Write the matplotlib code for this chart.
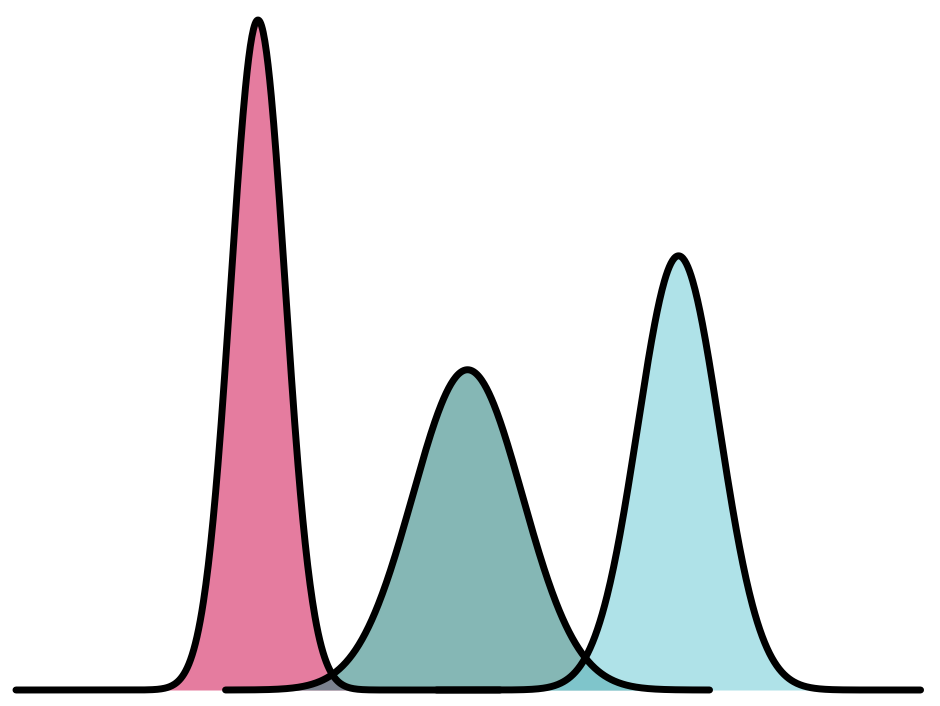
import numpy as np
import matplotlib
matplotlib.use('Agg')
import matplotlib.pyplot as plt

# Three bell curves (mean, spread, peak height), x in arbitrary units
labels = ['A', 'B', 'C']
means = [10.66, 19.32, 28.04]
sds = [1.12, 2.27, 1.69]
peaks = [1.0, 0.478, 0.648]
half_range = 10.0
colors = ['#D4255F', '#348785', '#7BD0DA']

fig = plt.figure(figsize=(9.4, 7.06), dpi=100)
ax = fig.add_axes([0, 0, 1, 1])

curves = []
for mu, sd, h in zip(means, sds, peaks):
    x = np.linspace(mu - half_range, mu + half_range, 600)
    y = h * np.exp(-0.5 * ((x - mu) / sd) ** 2)
    curves.append((x, y))

# fills first, then outlines on top
for (x, y), c in zip(curves, colors):
    ax.fill_between(x, 0, y, color=c, alpha=0.6, linewidth=0)
for x, y in curves:
    ax.plot(x, y, color='black', linewidth=5, solid_capstyle='round')

ax.set_xlim(0, 940 / 24.2)
ax.set_ylim(-16 / 670, 690 / 670)
ax.axis('off')

fig.savefig('out.png', dpi=100)
